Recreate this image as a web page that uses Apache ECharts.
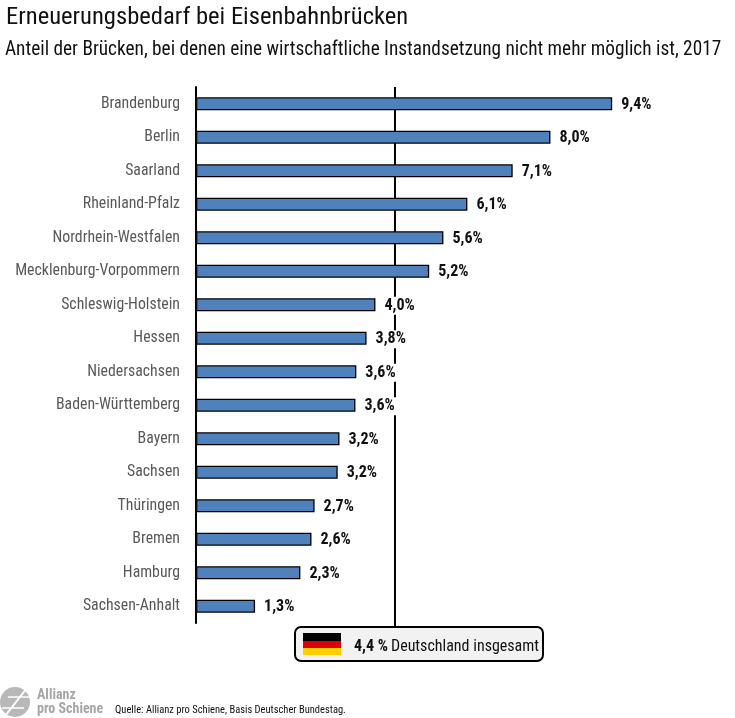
<!DOCTYPE html>
<html>
<head>
<meta charset="utf-8">
<style>html,body{margin:0;padding:0;background:#fff}#chart{width:735px;height:718px}</style>
<script src="https://cdn.jsdelivr.net/npm/echarts@6/dist/echarts.min.js"></script>
</head>
<body>
<div id="chart"></div>
<script>
const FONT = "'Roboto Condensed','Liberation Sans Narrow',Roboto,sans-serif";

const states = ["Brandenburg", "Berlin", "Saarland", "Rheinland-Pfalz", "Nordrhein-Westfalen", "Mecklenburg-Vorpommern", "Schleswig-Holstein", "Hessen", "Niedersachsen", "Baden-Württemberg", "Bayern", "Sachsen", "Thüringen", "Bremen", "Hamburg", "Sachsen-Anhalt"];
// bar lengths as measured in the picture, the printed labels are kept separately
const shares = [9.37, 7.98, 7.13, 6.11, 5.57, 5.25, 4.04, 3.84, 3.61, 3.59, 3.23, 3.19, 2.67, 2.60, 2.35, 1.33];
const shareLabels = ["9,4%", "8,0%", "7,1%", "6,1%", "5,6%", "5,2%", "4,0%", "3,8%", "3,6%", "3,6%", "3,2%", "3,2%", "2,7%", "2,6%", "2,3%", "1,3%"];
const germanyLine = [4.48];

const chart = echarts.init(document.getElementById("chart"));

chart.setOption({
  animation: false,
  backgroundColor: "#fff",
  textStyle: { fontFamily: FONT },
  grid: { left: 196, top: 87, width: 533, height: 536 },
  xAxis: { type: "value", min: 0, max: 12, show: false },
  yAxis: {
    type: "category",
    inverse: true,
    data: states,
    axisTick: { show: false },
    axisLine: { lineStyle: { color: "#000", width: 2 } },
    axisLabel: { color: "#595959", fontSize: 15.8, margin: 16, padding: [2, 0, 0, 0], fontFamily: FONT }
  },
  series: [
    {
      // line for Germany as a whole, runs a little below the plot down to the callout
      type: "custom",
      z: 1,
      clip: false,
      data: germanyLine,
      encode: { x: 0 },
      renderItem: (params, api) => {
        const x = api.coord([api.value(0), 0])[0];
        return {
          type: "line",
          shape: { x1: x, y1: params.coordSys.y, x2: x, y2: params.coordSys.y + params.coordSys.height + 7 },
          style: { stroke: "#000", lineWidth: 2 }
        };
      }
    },
    {
      type: "bar",
      z: 3,
      data: shares,
      barWidth: 13,
      itemStyle: { color: "#4f81bd", borderColor: "#000", borderWidth: 1.3 },
      label: {
        show: true,
        position: "right",
        distance: 7,
        offset: [0, 1],
        color: "#111",
        fontSize: 16,
        fontWeight: "bold",
        fontFamily: FONT,
        backgroundColor: "#fff",
        padding: [1, 2],
        formatter: p => shareLabels[p.dataIndex]
      }
    }
  ],
  graphic: [
    { type: "text", left: 6, top: 5, style: { text: "Erneuerungsbedarf bei Eisenbahnbrücken", font: "24.6px " + FONT, fill: "#111" } },
    { type: "text", left: 5, top: 41, style: { text: "Anteil der Brücken, bei denen eine wirtschaftliche Instandsetzung nicht mehr möglich ist, 2017", font: "19.3px " + FONT, fill: "#111" } },
    // callout
    { type: "rect", z: 10, shape: { x: 295, y: 627, width: 248, height: 34, r: 6 }, style: { fill: "#f2f2f2", stroke: "#000", lineWidth: 2 } },
    { type: "rect", z: 11, shape: { x: 303, y: 633, width: 38, height: 8 }, style: { fill: "#000" } },
    { type: "rect", z: 11, shape: { x: 303, y: 641, width: 38, height: 7 }, style: { fill: "#dd0000" } },
    { type: "rect", z: 11, shape: { x: 303, y: 648, width: 38, height: 7 }, style: { fill: "#ffce00" } },
    { type: "text", z: 11, left: 354, top: 639, style: { text: "4,4 %", font: "bold 16px " + FONT, fill: "#111" } },
    { type: "text", z: 11, left: 391, top: 639, style: { text: "Deutschland insgesamt", font: "16px " + FONT, fill: "#111" } },
    // logo
    { type: "circle", shape: { cx: 15, cy: 702, r: 15 }, style: { fill: "#b8b8b8" } },
    { type: "line", shape: { x1: 5, y1: 716, x2: 27, y2: 688 }, style: { stroke: "#fff", lineWidth: 2 } },
    { type: "line", shape: { x1: 8, y1: 697, x2: 30, y2: 697 }, style: { stroke: "#fff", lineWidth: 1.5 } },
    { type: "line", shape: { x1: 2, y1: 708, x2: 24, y2: 708 }, style: { stroke: "#fff", lineWidth: 1.5 } },
    { type: "text", left: 37, top: 688, style: { text: "Allianz", font: "bold 14px " + FONT, fill: "#a6a6a6" } },
    { type: "text", left: 37, top: 702, style: { text: "pro Schiene", font: "bold 14px " + FONT, fill: "#a6a6a6" } },
    { type: "text", left: 115, top: 705, style: { text: "Quelle: Allianz pro Schiene, Basis Deutscher Bundestag.", font: "10.5px " + FONT, fill: "#111" } }
  ]
});
</script>
</body>
</html>
